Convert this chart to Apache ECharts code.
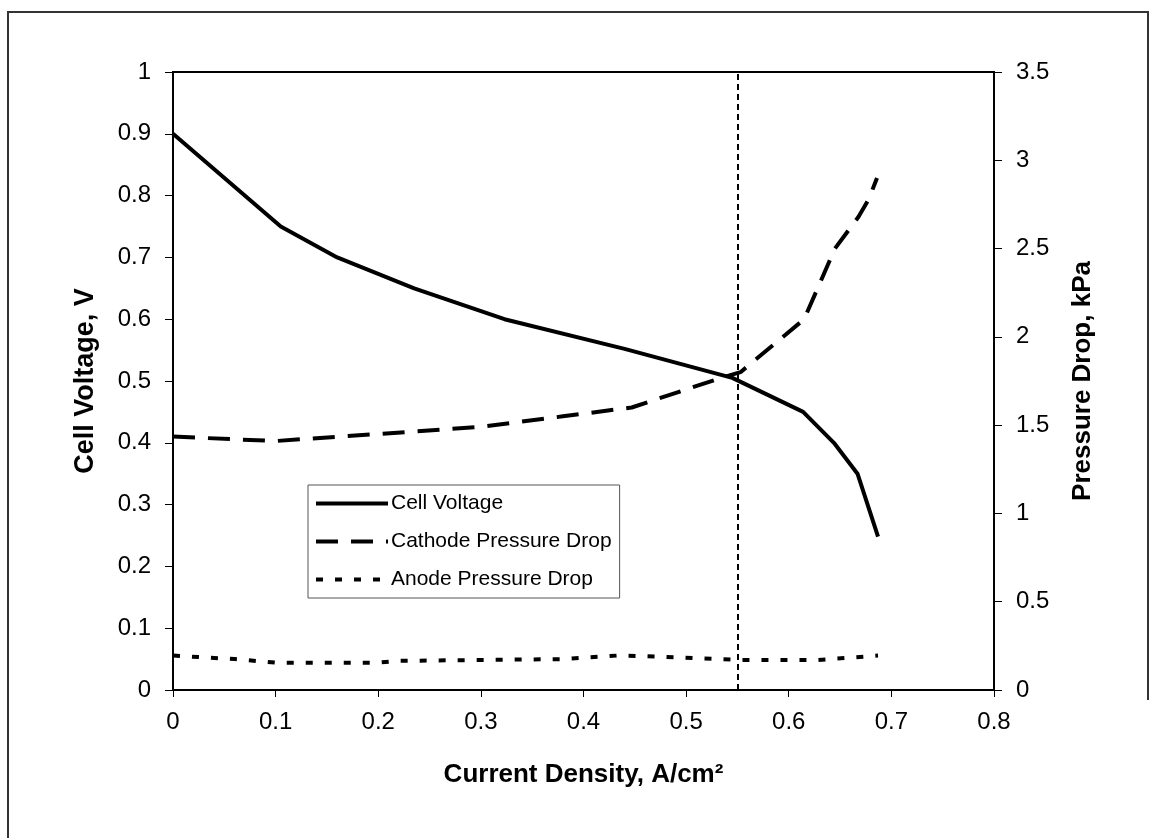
<!DOCTYPE html>
<html>
<head>
<meta charset="utf-8">
<script src="https://cdn.jsdelivr.net/npm/echarts@6/dist/echarts.min.js"></script>
<style>
  html, body { margin: 0; padding: 0; background: #fff; }
  #chart { width: 1153px; height: 838px; }
</style>
</head>
<body>
<div id="chart"></div>
<script>
  // cell voltage curve (left axis, V)
  var voltageX = [0, 0.105, 0.16, 0.235, 0.323, 0.44, 0.545, 0.614, 0.644, 0.667, 0.687];
  var cellVoltage = [0.9, 0.75, 0.70, 0.65, 0.60, 0.552, 0.505, 0.45, 0.40, 0.35, 0.248];

  // cathode pressure drop (right axis, kPa)
  var cathodeX = [0, 0.1, 0.2, 0.3, 0.38, 0.447, 0.53, 0.553, 0.615, 0.645, 0.668, 0.678, 0.686];
  var cathodeDrop = [1.435, 1.41, 1.45, 1.49, 1.55, 1.60, 1.76, 1.80, 2.1, 2.5, 2.68, 2.78, 2.9];

  // anode pressure drop (right axis, kPa)
  var anodeX = [0, 0.06, 0.1, 0.2, 0.22, 0.38, 0.433, 0.47, 0.532, 0.553, 0.628, 0.687];
  var anodeDrop = [0.195, 0.175, 0.155, 0.155, 0.165, 0.175, 0.195, 0.19, 0.175, 0.17, 0.17, 0.195];

  var markerX = 0.553;

  function pairs(xs, ys) {
    return xs.map(function (x, i) { return [x, ys[i]]; });
  }

  var font = 'Liberation Sans, Arial, sans-serif';
  var chart = echarts.init(document.getElementById('chart'));

  chart.setOption({
    animation: false,
    backgroundColor: '#fff',
    textStyle: { fontFamily: font, color: '#000' },
    graphic: [{
      type: 'polyline',
      shape: { points: [[8, 838], [8, 12], [1148, 12], [1148, 700]] },
      style: { stroke: '#333', lineWidth: 2, fill: null }
    }],
    grid: {
      left: 173, right: 159, top: 72, bottom: 148,
      show: true, borderColor: '#000', borderWidth: 2, backgroundColor: 'transparent'
    },
    legend: {
      orient: 'vertical',
      left: 308, top: 485,
      padding: [8, 8, 8, 6],
      itemWidth: 72, itemHeight: 14, itemGap: 17,
      itemStyle: { opacity: 0 },
      lineStyle: { width: 4 },
      borderColor: '#555', borderWidth: 1,
      textStyle: { fontFamily: font, fontSize: 21, color: '#000', padding: [0, 0, 0, -2] },
      data: ['Cell Voltage', 'Cathode Pressure Drop', 'Anode Pressure Drop']
    },
    xAxis: {
      type: 'value', min: 0, max: 0.8, interval: 0.1,
      name: 'Current Density, A/cm²', nameLocation: 'middle', nameGap: 72,
      nameTextStyle: { fontFamily: font, fontSize: 26, fontWeight: 'bold', color: '#000' },
      axisLine: { lineStyle: { color: '#000', width: 2 } },
      axisTick: { inside: false, length: 7, lineStyle: { color: '#000', width: 1 } },
      axisLabel: { fontFamily: font, fontSize: 24, color: '#000', margin: 20 },
      splitLine: { show: false }
    },
    yAxis: [{
      type: 'value', min: 0, max: 1, interval: 0.1, position: 'left',
      name: 'Cell Voltage, V', nameLocation: 'middle', nameGap: 74, nameRotate: 90,
      nameTextStyle: { fontFamily: font, fontSize: 27, fontWeight: 'bold', color: '#000' },
      axisLine: { show: true, lineStyle: { color: '#000', width: 2 } },
      axisTick: { show: true, length: 8, lineStyle: { color: '#000', width: 1 } },
      axisLabel: { fontFamily: font, fontSize: 24, color: '#000', margin: 22 },
      splitLine: { show: false }
    }, {
      type: 'value', min: 0, max: 3.5, interval: 0.5, position: 'right',
      name: 'Pressure Drop, kPa', nameLocation: 'middle', nameGap: 76, nameRotate: 90,
      nameTextStyle: { fontFamily: font, fontSize: 26, fontWeight: 'bold', color: '#000' },
      axisLine: { show: true, lineStyle: { color: '#000', width: 2 } },
      axisTick: { show: true, length: 8, lineStyle: { color: '#000', width: 1 } },
      axisLabel: { fontFamily: font, fontSize: 24, color: '#000', margin: 22 },
      splitLine: { show: false }
    }],
    series: [{
      name: 'Cell Voltage', type: 'line', yAxisIndex: 0,
      data: pairs(voltageX, cellVoltage),
      symbol: 'none',
      lineStyle: { color: '#000', width: 4 },
      itemStyle: { color: '#000' },
      markLine: {
        silent: true, symbol: 'none',
        label: { show: false },
        lineStyle: { color: '#000', width: 2, type: [6, 4] },
        data: [{ xAxis: markerX }]
      }
    }, {
      name: 'Cathode Pressure Drop', type: 'line', yAxisIndex: 1,
      data: pairs(cathodeX, cathodeDrop),
      symbol: 'none',
      lineStyle: { color: '#000', width: 4, type: [22, 13] },
      itemStyle: { color: '#000' }
    }, {
      name: 'Anode Pressure Drop', type: 'line', yAxisIndex: 1,
      data: pairs(anodeX, anodeDrop),
      symbol: 'none',
      lineStyle: { color: '#000', width: 4, type: [7, 12] },
      itemStyle: { color: '#000' }
    }]
  });
</script>
</body>
</html>
